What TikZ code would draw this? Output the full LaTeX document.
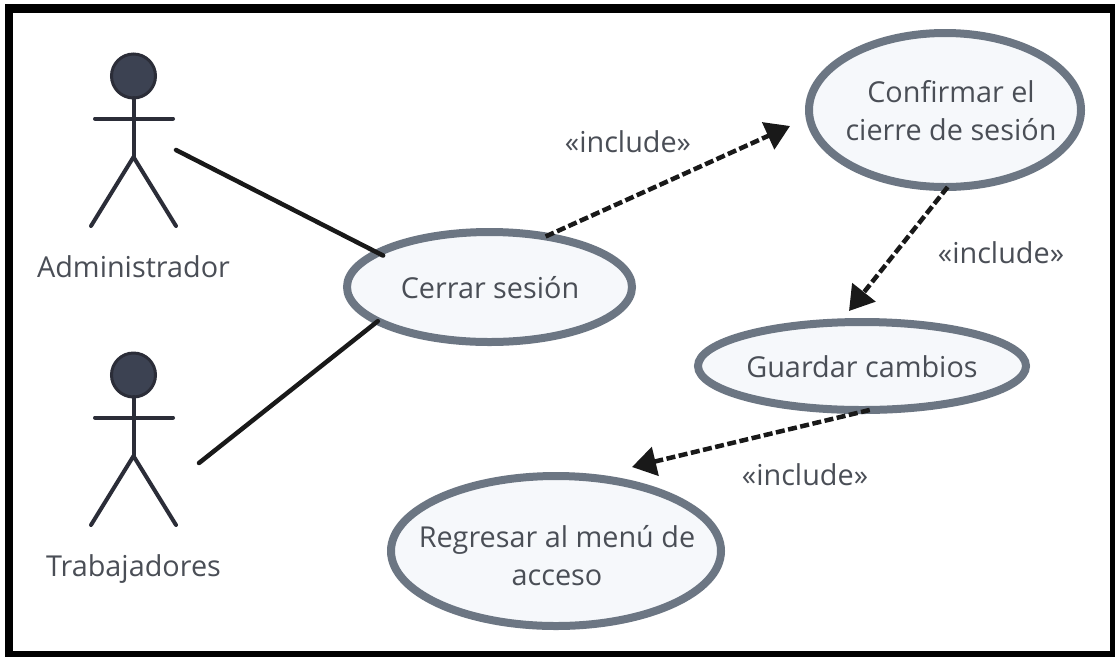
\documentclass[tikz,border=0pt]{standalone}
\usepackage{fontspec}
\setmainfont{Open Sans}
\usetikzlibrary{shapes.geometric,arrows.meta}
\definecolor{ucline}{HTML}{6C7683}
\definecolor{ucfill}{HTML}{F6F8FB}
\definecolor{actor}{HTML}{2B2D38}
\definecolor{headfill}{HTML}{3C4252}
\definecolor{txt}{HTML}{4A4E56}
\tikzset{
  x=1pt,y=-1pt,
  uc/.style={draw=ucline,fill=ucfill,ellipse,line width=8pt,inner sep=0pt,outer sep=0pt},
  lbl/.style={text=txt,font=\fontsize{28.8}{38}\selectfont,align=center,inner sep=0pt},
  limb/.style={draw=actor,line width=4pt,line cap=round},
  assoc/.style={draw=black!90,line width=4.5pt,line cap=round},
  incl/.style={draw=black!90,line width=4.5pt,dash pattern=on 9pt off 3.5pt,
    -{Triangle[length=24pt,width=29pt,sep=0pt]}}
}
\begin{document}
\begin{tikzpicture}
\useasboundingbox (0,0) rectangle (1115,657);
\fill[white] (0,0) rectangle (1115,657);
\fill[black] (5,4) rectangle (1115,657);
\fill[white] (13,13) rectangle (1110,651);

% use cases
\node[uc,minimum width=285pt,minimum height=110pt] (cerrar) at (489.5,287) {};
\node[lbl,yshift=-1pt,xshift=0.5pt] (cerrart) at (cerrar) {Cerrar sesión};
\node[uc,minimum width=272pt,minimum height=154pt] (confirmar) at (945,110) {};
\node[lbl,xshift=6pt,yshift=-1pt] (confirmart) at (confirmar) {Confirmar el\\cierre de sesión};
\node[uc,minimum width=328pt,minimum height=88pt] (guardar) at (862,366) {};
\node[lbl,yshift=-1pt] (guardart) at (guardar) {Guardar cambios};
\node[uc,minimum width=330pt,minimum height=150pt] (regresar) at (556,551) {};
\node[lbl,xshift=1pt,yshift=-5pt] (regresart) at (regresar) {Regresar al menú de\\acceso};

% actors
\node[circle,draw=actor,fill=headfill,line width=3pt,minimum size=44pt,inner sep=0pt,outer sep=0pt] (head1) at (133.5,76) {};
\coordinate (hipa) at (133.5,157);
\coordinate (armal) at (95,118.5);
\coordinate (armar) at (173,118.5);
\coordinate (legal) at (91,226);
\coordinate (legar) at (176,226);
\draw[limb] (head1.south) -- (hipa);
\draw[limb] (armal) -- (armar);
\draw[limb] (legal) -- (hipa) -- (legar);
\node[lbl] (admin) at (133.5,267) {Administrador};

\node[circle,draw=actor,fill=headfill,line width=3pt,minimum size=44pt,inner sep=0pt,outer sep=0pt] (head2) at (133.5,375) {};
\coordinate (hipb) at (133.5,456);
\coordinate (armbl) at (95,417.5);
\coordinate (armbr) at (173,417.5);
\coordinate (legbl) at (91,525);
\coordinate (legbr) at (176,525);
\draw[limb] (head2.south) -- (hipb);
\draw[limb] (armbl) -- (armbr);
\draw[limb] (legbl) -- (hipb) -- (legbr);
\node[lbl] (trab) at (133.5,569) {Trabajadores};

% associations
\coordinate (asa) at (176,150);
\coordinate (asb) at (199,463);
\draw[assoc,shorten >=-6pt] (asa) -- (cerrar.163);
\draw[assoc] (asb) -- (cerrar.197);

% includes
\coordinate (i1) at (790,126);
\coordinate (i2) at (849,311);
\coordinate (i3) at (632,467);
\draw[incl] (cerrar.42) -- (i1);
\draw[incl] (confirmar.-88.5) -- (i2);
\draw[incl] (guardar.-80) -- (i3);
\node[lbl] (l1) at (628,142) {«include»};
\node[lbl] (l2) at (1001,253) {«include»};
\node[lbl] (l3) at (805,475) {«include»};
\end{tikzpicture}
\end{document}
